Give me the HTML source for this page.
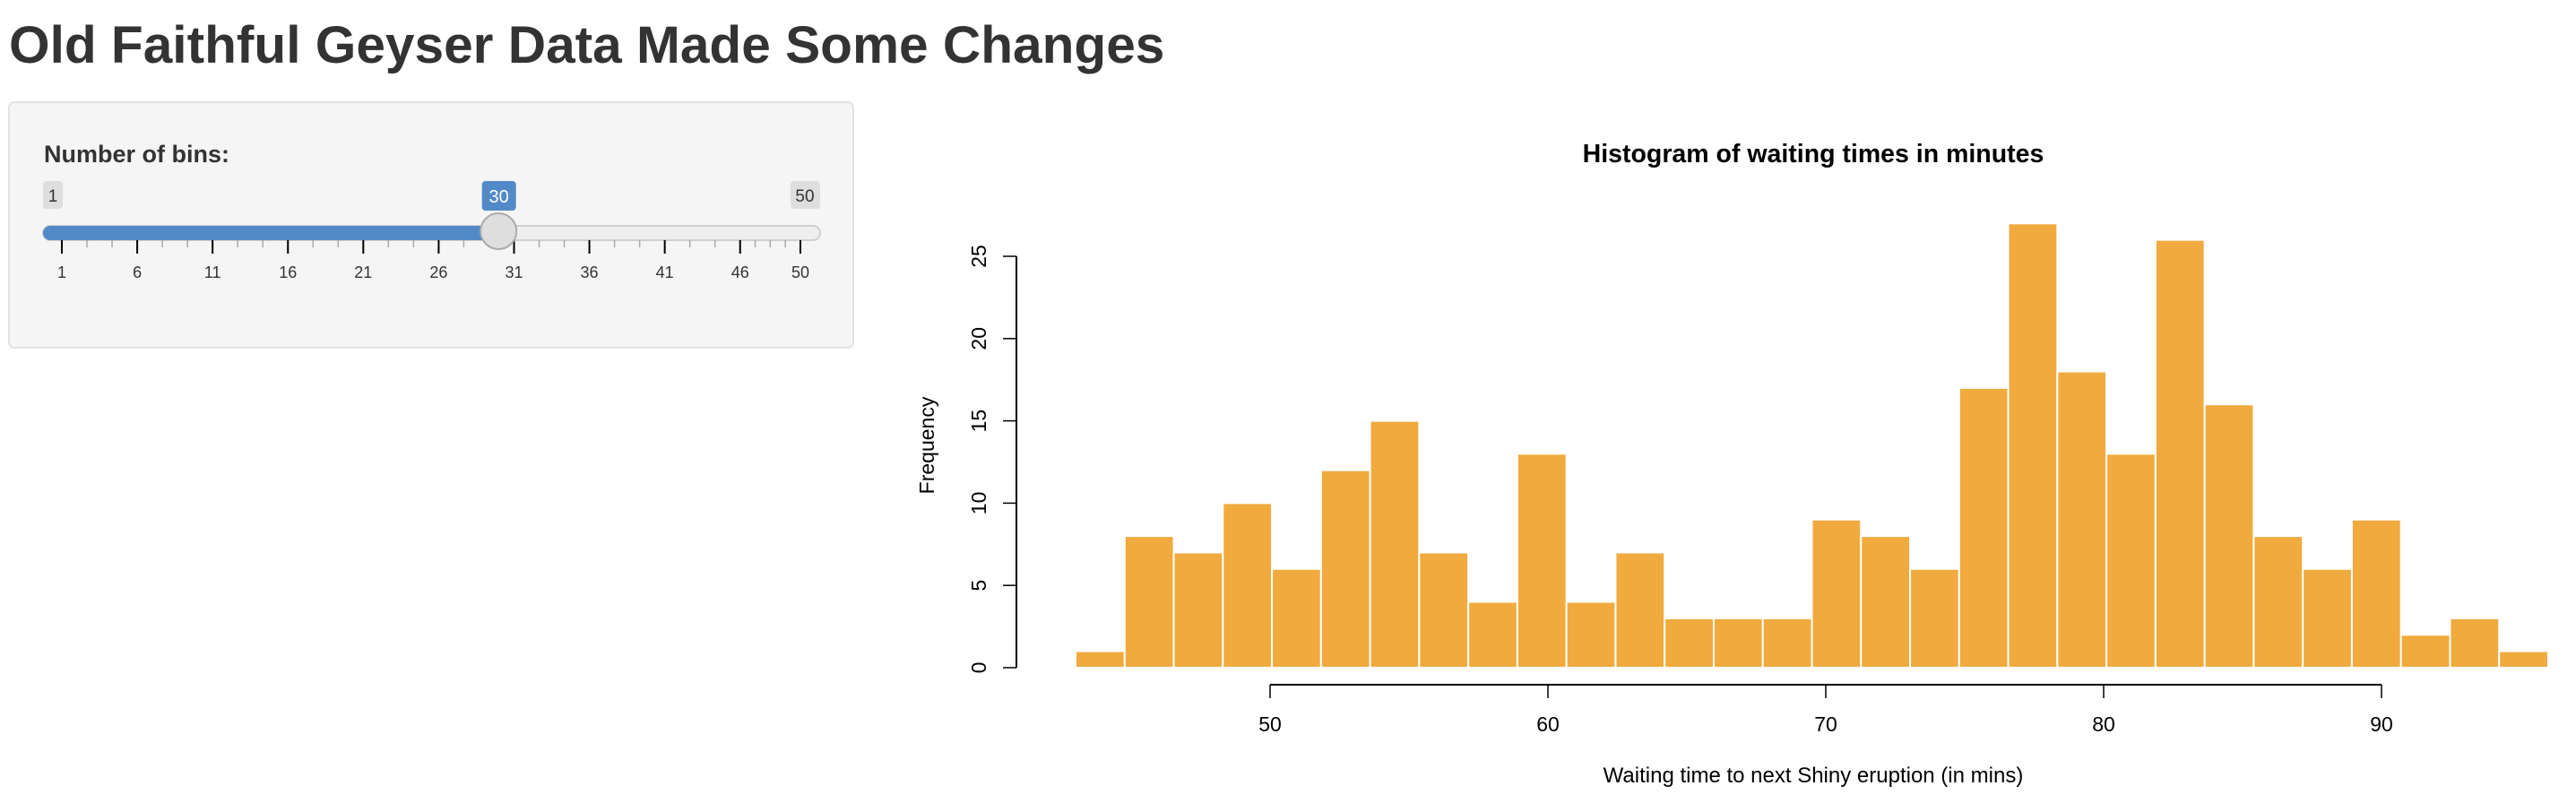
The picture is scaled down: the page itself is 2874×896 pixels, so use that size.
<!DOCTYPE html>
<html><head><meta charset="utf-8">
<style>
html,body{margin:0;padding:0;background:#fff;width:2874px;height:896px;overflow:hidden;font-family:"Liberation Sans",Arial,sans-serif;color:#333}
h1{position:absolute;left:10px;top:22px;margin:0;font-size:58.6px;font-weight:bold;line-height:1;color:#333}
.panel{position:absolute;left:9px;top:113px;width:944px;height:276px;background:#f5f5f5;border:2px solid #e3e3e3;border-radius:7px;box-sizing:border-box}
.lbl{position:absolute;left:49px;top:157px;font-size:27px;font-weight:bold;color:#333}
</style></head><body>
<h1>Old Faithful Geyser Data Made Some Changes</h1>
<div class="panel"></div>
<div class="lbl">Number of bins:</div>
<svg id="slider" style="position:absolute;left:0;top:0" width="960" height="400"></svg>
<svg id="chart" style="position:absolute;left:0;top:0" width="2874" height="896"></svg>
<script>
const counts=[1,8,7,10,6,12,15,7,4,13,4,7,3,3,3,9,8,6,17,27,18,13,26,16,8,6,9,2,3,1];
const breakStart=43, breakEnd=96;
const xTicks=[50,60,70,80,90];
const yTicks=[0,5,10,15,20,25];
const sliderMin=1, sliderMax=50, sliderValue=30;
const sliderGrid=[1,6,11,16,21,26,31,36,41,46,50];

const NS='http://www.w3.org/2000/svg';
function mk(p,t,a,txt){const e=document.createElementNS(NS,t);for(const k in a)e.setAttribute(k,a[k]);if(txt!==undefined)e.textContent=txt;p.appendChild(e);return e;}

// slider
const sl=document.getElementById('slider');
const sx=v=>69+(v-sliderMin)*(893-69)/(sliderMax-sliderMin);
let e=mk(sl,'rect',{x:48,y:252,width:867,height:16,rx:8,fill:'#eee',stroke:'#d0d0d0','stroke-width':2});

e=mk(sl,'rect',{x:48,y:252,width:sx(sliderValue)-48,height:16,rx:8,fill:'#528ac8'});

for(let i=0;i<sliderGrid.length;i++){
  const v=sliderGrid[i];
  e=mk(sl,'line',{x1:sx(v),x2:sx(v),y1:268,y2:283,stroke:'#000','stroke-width':2});
  
  e=mk(sl,'text',{x:sx(v),y:310,'font-size':18,'text-anchor':'middle',fill:'#333'},String(v));
  
  if(i<sliderGrid.length-1){const n=sliderGrid[i+1];const st=(n-v)>=5?3:(n-v);
    for(let k=1;k<st;k++){const mv=v+(n-v)*k/st;
      e=mk(sl,'line',{x1:sx(mv),x2:sx(mv),y1:268,y2:276,stroke:'#aaa','stroke-width':1.5});
      }}
}
e=mk(sl,'rect',{x:48,y:202,width:22,height:31,rx:4,fill:'#dedede'});

e=mk(sl,'text',{x:59,y:225,'font-size':19,'text-anchor':'middle',fill:'#333'},String(sliderMin));

e=mk(sl,'rect',{x:882,y:202,width:33,height:31,rx:4,fill:'#dedede'});

e=mk(sl,'text',{x:898,y:225,'font-size':19,'text-anchor':'middle',fill:'#333'},String(sliderMax));

e=mk(sl,'rect',{x:sx(sliderValue)-19,y:202,width:38,height:33,rx:4,fill:'#528ac8'});

e=mk(sl,'text',{x:sx(sliderValue),y:226,'font-size':20,'text-anchor':'middle',fill:'#fff'},String(sliderValue));

e=mk(sl,'circle',{cx:sx(sliderValue)-0.5,cy:258,r:20,fill:'#dedede',stroke:'#ababab','stroke-width':2});


// chart
const ch=document.getElementById('chart');
const X0=1417, PX=31.0, Y0=745, PY=(745-286)/25;
const xs=v=>X0+(v-50)*PX, ys=v=>Y0-v*PY;
const bw=(breakEnd-breakStart)/counts.length;
const AF='"Liberation Sans",Arial,sans-serif';
counts.forEach((c,i)=>{
  const a=breakStart+i*bw;
  const r=mk(ch,'rect',{x:xs(a),y:ys(c),width:xs(a+bw)-xs(a),height:ys(0)-ys(c),fill:'#f0aa3e',stroke:'#fff','stroke-width':2});
  
  
});
e=mk(ch,'line',{x1:xs(xTicks[0]),x2:xs(xTicks[xTicks.length-1]),y1:764,y2:764,stroke:'#000','stroke-width':2});

xTicks.forEach(t=>{
  e=mk(ch,'line',{x1:xs(t),x2:xs(t),y1:764,y2:779,stroke:'#000','stroke-width':1.5});
  
  e=mk(ch,'text',{x:xs(t),y:816,'font-size':23,'font-family':AF,'text-anchor':'middle',fill:'#000'},String(t));
  
});
e=mk(ch,'line',{x1:1134,x2:1134,y1:ys(yTicks[0]),y2:ys(yTicks[yTicks.length-1]),stroke:'#000','stroke-width':2});

yTicks.forEach(t=>{
  e=mk(ch,'line',{x1:1119,x2:1134,y1:ys(t),y2:ys(t),stroke:'#000','stroke-width':1.5});
  
  e=mk(ch,'text',{x:0,y:0,'font-size':23,'font-family':AF,'text-anchor':'middle',fill:'#000',transform:`translate(1100,${ys(t)}) rotate(-90)`},String(t));
  
});
e=mk(ch,'text',{x:0,y:0,'font-size':23,'font-family':AF,'text-anchor':'middle',fill:'#000',transform:'translate(1042,497) rotate(-90)'},'Frequency');

e=mk(ch,'text',{x:2023,y:873,'font-size':24,'font-family':AF,'text-anchor':'middle',fill:'#000'},'Waiting time to next Shiny eruption (in mins)');

e=mk(ch,'text',{x:2023,y:181,'font-size':28.5,'font-weight':'bold','font-family':AF,'text-anchor':'middle',fill:'#000'},'Histogram of waiting times in minutes');

</script>
</body></html>
